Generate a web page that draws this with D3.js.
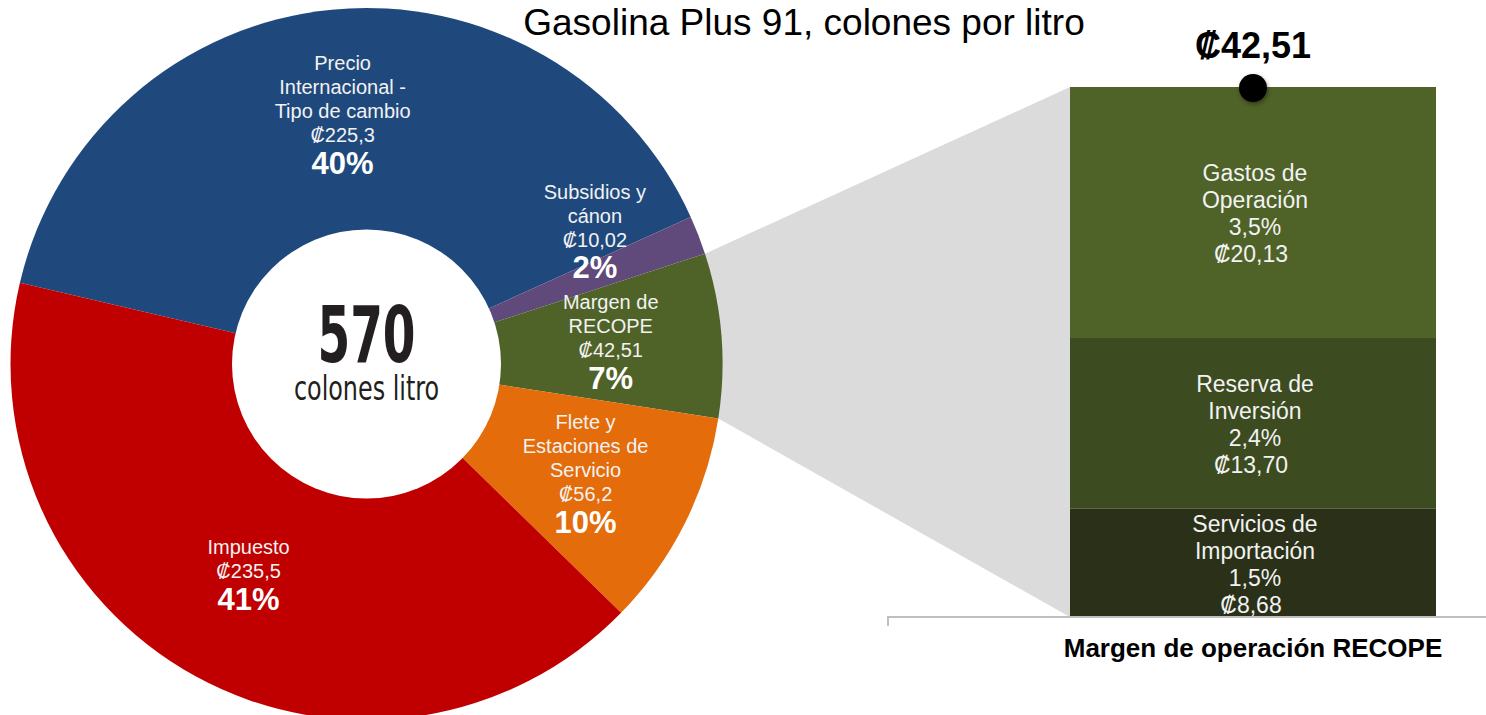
<!DOCTYPE html>
<html><head><meta charset="utf-8">
<script src="https://cdn.jsdelivr.net/npm/d3@7"></script>
<style>body{margin:0;background:#fff;} svg{display:block;}</style>
</head><body>
<svg id="chart" width="1486" height="715"></svg>
<script>
// ---- data ----
const pieNames = [["Precio","Internacional -","Tipo de cambio"],["Subsidios y","cánon"],["Margen de","RECOPE"],["Flete y","Estaciones de","Servicio"],["Impuesto"]];
const pieValues = [225.3, 10.02, 42.51, 56.2, 235.5];
const pieValueLabels = ["₡225,3","₡10,02","₡42,51","₡56,2","₡235,5"];
const piePercents = ["40%","2%","7%","10%","41%"];
const pieColors = ["#1F497D","#604A7B","#4F6228","#E46C0A","#C00000"];

const barNames = [["Servicios de","Importación"],["Reserva de","Inversión"],["Gastos de","Operación"]];
const barValues = [8.68, 13.70, 20.13];
const barPercents = ["1,5%","2,4%","3,5%"];
const barValueLabels = ["₡8,68","₡13,70","₡20,13"];
const barColors = ["#2A3118","#3C4B20","#4F6228"];
const barTotalLabel = "₡42,51";
const centerValue = "570";
const centerUnit = "colones litro";
const title = "Gasolina Plus 91, colones por litro";
const barAxisLabel = "Margen de operación RECOPE";

// ---- layout ----
const svg = d3.select("#chart");
const cx = 366.5, cy = 364, rOuter = 356, rInner = 134.5, rLabel = 245;
const startA = -76.8 * Math.PI / 180;
const FONT = "Liberation Sans, Arial, sans-serif";

const pie = d3.pie().sort(null).startAngle(startA).endAngle(startA + 2*Math.PI);
const arcs = pie(pieValues);
const arc = d3.arc().innerRadius(0).outerRadius(rOuter);

// bar scale
const total = d3.sum(barValues);
const y = d3.scaleLinear().domain([0, total]).range([617, 87]);
const bx0 = 1070, bw = 366;

// connector (gray) from green slice to bar
const g = arcs[2];
const p1 = [cx + rOuter*Math.sin(g.startAngle), cy - rOuter*Math.cos(g.startAngle)];
const p2 = [cx + rOuter*Math.sin(g.endAngle), cy - rOuter*Math.cos(g.endAngle)];
svg.append("path")
  .attr("d", d3.line()([p1, [bx0, y(total)], [bx0, y(0)], p2]) + "Z")
  .attr("fill", "#DCDBDC");

// pie
const pg = svg.append("g").attr("transform", `translate(${cx},${cy})`);
pg.selectAll("path.slice").data(arcs).join("path")
  .attr("class","slice")
  .attr("d", arc)
  .attr("fill", (d,i)=>pieColors[i]);
pg.append("circle").attr("r", rInner).attr("fill","#fff");

// pie labels
const labelArc = d3.arc().innerRadius(rLabel).outerRadius(rLabel);
const labelShift = [-7.5, -46, -4, -2, -5.5];
const lh = 24, fsName = 20, fsPct = 31;
arcs.forEach((d,i)=>{
  const [lx, ly] = labelArc.centroid(d);
  const lines = pieNames[i].concat([pieValueLabels[i]]);
  const n = lines.length;
  const C = ly + labelShift[i];
  const F = C - (lh*(n-1) + 28)/2;
  lines.forEach((s,k)=>{
    pg.append("text").attr("x", lx).attr("y", F + k*lh + 0.36*fsName)
      .attr("text-anchor","middle")
      .attr("font-family",FONT)
      .attr("font-size", fsName).attr("fill", "#F2F2F2").text(s);
  });
  pg.append("text").attr("x", lx).attr("y", F + (n-1)*lh + 28 + 0.36*fsPct)
    .attr("text-anchor","middle")
    .attr("font-family",FONT)
    .attr("font-weight","bold")
    .attr("font-size", fsPct).attr("fill", "#fff").text(piePercents[i]);
});

// center text
pg.append("text").attr("x", 0).attr("y", -2).attr("text-anchor","middle")
  .attr("font-family","DejaVu Sans Condensed, DejaVu Sans, sans-serif")
  .attr("font-weight","bold").attr("font-size", 78).attr("fill","#231F20")
  .attr("transform","scale(0.67,1)")
  .text(centerValue);
pg.append("text").attr("x", 0).attr("y", 36).attr("text-anchor","middle")
  .attr("font-family","DejaVu Sans Condensed, DejaVu Sans, sans-serif")
  .attr("font-weight","300").attr("font-size", 34).attr("fill","#231F20")
  .attr("transform","scale(0.78,1)")
  .text(centerUnit);

// bar stack
const stack = [];
let acc = 0;
barValues.forEach((v,i)=>{ stack.push({i, y0: acc, y1: acc+v}); acc += v; });
svg.selectAll("rect.seg").data(stack).join("rect")
  .attr("class","seg")
  .attr("x", bx0).attr("width", bw)
  .attr("y", d=>y(d.y1)).attr("height", d=>y(d.y0)-y(d.y1))
  .attr("fill", d=>barColors[d.i]);

const blh = 27, fsBar = 23;
stack.forEach(d=>{
  const lines = barNames[d.i].concat([barPercents[d.i], barValueLabels[d.i]]);
  const mid = (y(d.y0)+y(d.y1))/2 + 1;
  const xc = bx0 + bw/2 + 2;
  lines.forEach((s,k)=>{
    svg.append("text").attr("x", xc - (k===3 ? 4 : 0)).attr("y", mid + (k-1.5)*blh + 0.36*fsBar)
      .attr("text-anchor","middle")
      .attr("font-family",FONT)
      .attr("font-size", fsBar).attr("fill","#F2F2F2").text(s);
  });
});

// axis baseline
svg.append("path").attr("d", d3.line()([[888, 626],[888, y(0)],[1486, y(0)]]))
  .attr("fill","none").attr("stroke","#BFBFBF").attr("stroke-width",2);
svg.append("text").attr("x", 1253).attr("y", 657).attr("text-anchor","middle")
  .attr("font-family",FONT).attr("font-weight","bold")
  .attr("font-size", 26).attr("fill","#000").text(barAxisLabel);

// total dot + label
const defs = svg.append("defs");
const f = defs.append("filter").attr("id","sh").attr("x","-50%").attr("y","-50%").attr("width","200%").attr("height","200%");
f.append("feDropShadow").attr("dx",1).attr("dy",2).attr("stdDeviation",2).attr("flood-color","#000").attr("flood-opacity",0.4);
svg.append("circle").attr("cx", bx0 + bw/2).attr("cy", y(total) + 1).attr("r", 14)
  .attr("fill","#000").attr("filter","url(#sh)");
svg.append("text").attr("x", bx0 + bw/2).attr("y", 58).attr("text-anchor","middle")
  .attr("font-family",FONT).attr("font-weight","bold")
  .attr("font-size", 36).attr("fill","#000").text(barTotalLabel);

// title
svg.append("text").attr("x", 804).attr("y", 35).attr("text-anchor","middle")
  .attr("font-family",FONT)
  .attr("font-size", 37).attr("fill","#000").text(title);
</script>
</body></html>
